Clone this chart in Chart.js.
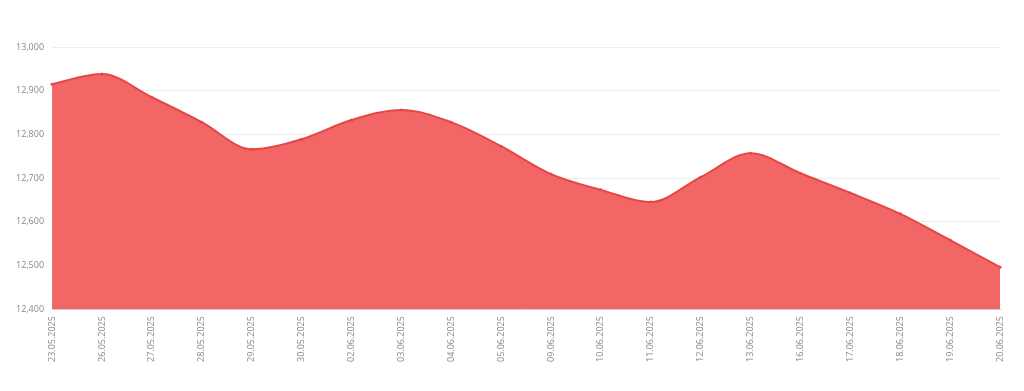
<!DOCTYPE html>
<html>
<head>
<meta charset="utf-8">
<script src="https://cdn.jsdelivr.net/npm/chart.js@4"></script>
<style>
  html, body { margin: 0; padding: 0; background: #fff; }
  #wrap { width: 1024px; height: 391px; }
</style>
</head>
<body>
<div id="wrap"><canvas id="priceChart"></canvas></div>
<script>
const dates = [
  '23.05.2025', '26.05.2025', '27.05.2025', '28.05.2025', '29.05.2025',
  '30.05.2025', '02.06.2025', '03.06.2025', '04.06.2025', '05.06.2025',
  '09.06.2025', '10.06.2025', '11.06.2025', '12.06.2025', '13.06.2025',
  '16.06.2025', '17.06.2025', '18.06.2025', '19.06.2025', '20.06.2025'
];
const values = [
  12915, 12938, 12885, 12828, 12766,
  12789, 12833, 12856, 12828, 12773,
  12709, 12673, 12645, 12702, 12757,
  12711, 12666, 12618, 12558, 12496
];
const yMin = 12400;
const yMax = 13000;
const yStep = 100;

const ctx = document.getElementById('priceChart').getContext('2d');

new Chart(ctx, {
  type: 'line',
  data: {
    labels: dates,
    datasets: [{
      data: values,
      fill: 'start',
      backgroundColor: 'rgb(242, 102, 102)',
      borderColor: 'rgb(230, 70, 70)',
      borderWidth: 2,
      tension: 0.4,
      cubicInterpolationMode: 'monotone',
      pointRadius: 1.5,
      pointBackgroundColor: 'rgb(230, 70, 70)',
      pointBorderWidth: 0
    }]
  },
  options: {
    responsive: true,
    maintainAspectRatio: false,
    animation: false,
    layout: { padding: { left: 8, right: 24, top: 47, bottom: 27 } },
    plugins: { legend: { display: false }, tooltip: { enabled: false } },
    scales: {
      x: {
        offset: false,
        grid: { display: false, drawOnChartArea: false, drawTicks: true, tickLength: 5, color: '#ccc' },
        border: { color: '#ccc' },
        ticks: {
          color: '#888',
          font: { family: 'Open Sans', size: 9 },
          maxRotation: 90,
          minRotation: 90,
          autoSkip: false,
          padding: 2
        }
      },
      y: {
        min: yMin,
        max: yMax,
        grid: { color: '#eeeeee', drawTicks: false },
        border: { display: false },
        ticks: {
          stepSize: yStep,
          color: '#888',
          font: { family: 'Open Sans', size: 9 },
          padding: 8,
          callback: v => Number(v).toLocaleString('en-US')
        }
      }
    }
  }
});
</script>
</body>
</html>
